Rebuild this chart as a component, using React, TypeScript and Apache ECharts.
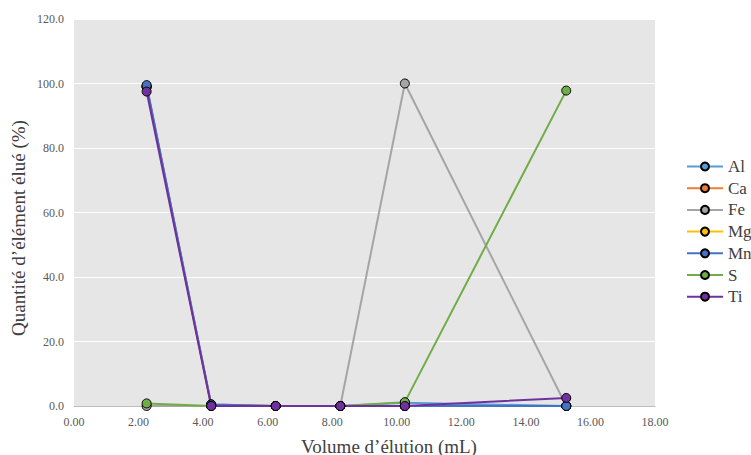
import React, { useEffect, useRef } from "react";
import * as echarts from "echarts";

const volumes = [2.25, 4.25, 6.25, 8.25, 10.25, 15.25];
const seriesNames = ["Al", "Ca", "Fe", "Mg", "Mn", "S", "Ti"];
const alValues = [99.0, 0.5, 0.0, 0.0, 1.0, 0.0];
const caValues = [99.0, 0.2, 0.0, 0.0, 0.0, 0.0];
const feValues = [0.0, 0.0, 0.0, 0.0, 100.0, 0.0];
const mgValues = [99.0, 0.2, 0.0, 0.0, 0.0, 0.0];
const mnValues = [99.5, 0.5, 0.0, 0.0, 0.0, 0.0];
const sValues = [0.8, 0.0, 0.0, 0.0, 1.2, 97.8];
const tiValues = [97.5, 0.0, 0.0, 0.0, 0.0, 2.5];
const colors = ["#5B9BD5", "#ED7D31", "#A5A5A5", "#FFC000", "#4472C4", "#70AD47", "#7030A0"];
const xTitle = "Volume d’élution (mL)";
const yTitle = "Quantité d’élément élué (%)";

const allValues = [alValues, caValues, feValues, mgValues, mnValues, sValues, tiValues];

export default function App() {
  const ref = useRef<HTMLDivElement>(null);
  useEffect(() => {
    if (!ref.current) return;
    const chart = echarts.init(ref.current, null, { renderer: "svg" });
    const font = "'Liberation Serif', 'DejaVu Serif', serif";
    chart.setOption({
      animation: false,
      backgroundColor: "#ffffff",
      textStyle: { fontFamily: font },
      grid: {
        left: 74,
        right: 96,
        top: 19,
        bottom: 49,
        show: true,
        backgroundColor: "#E7E6E6",
        borderWidth: 0,
      },
      graphic: [
        {
          type: "text",
          x: 389,
          y: 446,
          style: {
            text: xTitle,
            fontFamily: font,
            fontSize: 19,
            fill: "#404040",
            align: "center",
            verticalAlign: "middle",
          },
        },
        {
          type: "text",
          x: 18,
          y: 228,
          rotation: Math.PI / 2,
          style: {
            text: yTitle,
            fontFamily: font,
            fontSize: 19,
            fill: "#404040",
            align: "center",
            verticalAlign: "middle",
          },
        },
      ],
      legend: {
        orient: "vertical",
        left: 681,
        top: 153,
        itemWidth: 36,
        itemHeight: 10,
        itemGap: 4.7,
        textStyle: { fontFamily: font, fontSize: 17, color: "#404040" },
        data: seriesNames,
      },
      xAxis: {
        type: "value",
        min: 0,
        max: 18,
        interval: 2,
        axisLine: { show: true, lineStyle: { color: "#BFBFBF", width: 1 } },
        axisTick: { show: false },
        splitLine: { show: false },
        axisLabel: {
          fontFamily: font,
          fontSize: 12,
          color: "#595959",
          margin: 10,
          formatter: (v: number) => v.toFixed(2),
        },
      },
      yAxis: {
        type: "value",
        min: 0,
        max: 120,
        interval: 20,
        axisLine: { show: false },
        axisTick: { show: false },
        splitLine: { show: true, lineStyle: { color: "#FFFFFF", width: 1 } },
        axisLabel: {
          fontFamily: font,
          fontSize: 12,
          color: "#595959",
          margin: 10,
          formatter: (v: number) => v.toFixed(1),
        },
      },
      series: seriesNames.map((name, i) => ({
        name,
        type: "line",
        data: volumes.map((x, j) => [x, allValues[i][j]]),
        symbol: "circle",
        symbolSize: 9,
        showSymbol: true,
        lineStyle: { color: colors[i], width: 2 },
        itemStyle: { color: colors[i], borderColor: "#000000", borderWidth: 1 },
        emphasis: { disabled: true },
      })),
    });
    return () => chart.dispose();
  }, []);
  return (
    <div
      ref={ref}
      style={{ position: "fixed", left: 0, top: 0, width: 751, height: 455 }}
    />
  );
}
